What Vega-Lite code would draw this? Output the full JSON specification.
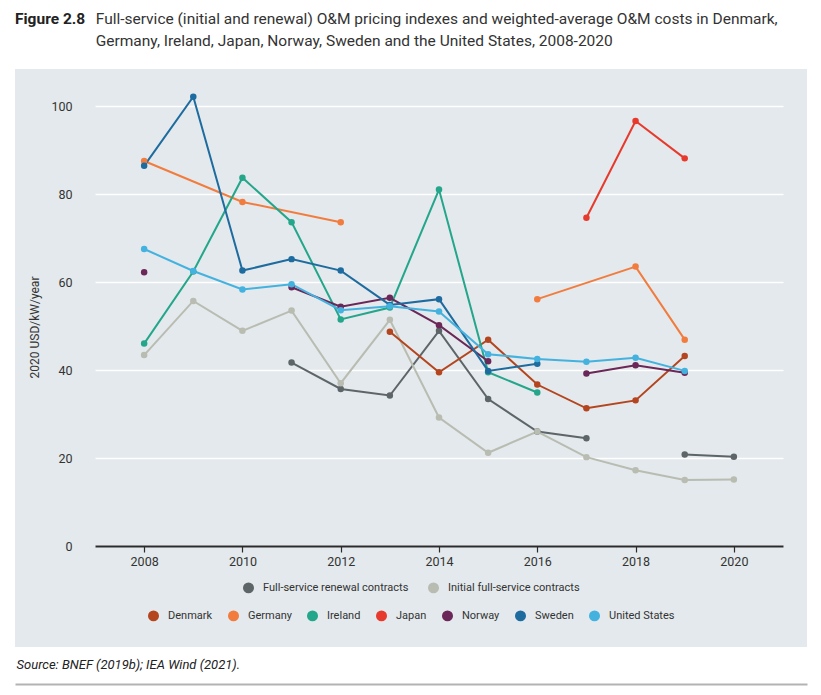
{
  "$schema": "https://vega.github.io/schema/vega-lite/v6.json",
  "width": 792,
  "height": 578,
  "autosize": {"type": "none"},
  "padding": {"left": 15, "top": 69, "right": 14, "bottom": 48},
  "background": "white",
  "config": {
    "font": "Roboto, sans-serif",
    "view": {"stroke": null, "fill": "#e3e9ec"}
  },
  "title": {
    "text": "Figure 2.8",
    "subtitle": [
      "\u200b\u00a0\u00a0\u00a0\u00a0\u00a0\u00a0\u00a0\u00a0\u00a0\u00a0\u00a0\u00a0\u00a0\u00a0\u00a0\u00a0\u00a0\u00a0\u00a0\u00a0\u00a0Full-service (initial and renewal) O&M pricing indexes and weighted-average O&M costs in Denmark,",
      "\u200b\u00a0\u00a0\u00a0\u00a0\u00a0\u00a0\u00a0\u00a0\u00a0\u00a0\u00a0\u00a0\u00a0\u00a0\u00a0\u00a0\u00a0\u00a0\u00a0\u00a0\u00a0Germany, Ireland, Japan, Norway, Sweden and the United States, 2008-2020"
    ],
    "anchor": "start",
    "frame": "group",
    "fontSize": 15.5,
    "fontWeight": "bold",
    "color": "#222222",
    "subtitleFontSize": 15.5,
    "subtitleColor": "#333333",
    "subtitlePadding": -15.5,
    "subtitleLineHeight": 22,
    "offset": 20
  },
  "layer": [
    {
      "data": {"values": [
        {"series": "Full-service renewal contracts", "seg": "R1", "year": 2011, "value": 41.7},
        {"series": "Full-service renewal contracts", "seg": "R1", "year": 2012, "value": 35.7},
        {"series": "Full-service renewal contracts", "seg": "R1", "year": 2013, "value": 34.2},
        {"series": "Full-service renewal contracts", "seg": "R1", "year": 2014, "value": 48.9},
        {"series": "Full-service renewal contracts", "seg": "R1", "year": 2015, "value": 33.4},
        {"series": "Full-service renewal contracts", "seg": "R1", "year": 2016, "value": 26.0},
        {"series": "Full-service renewal contracts", "seg": "R1", "year": 2017, "value": 24.5},
        {"series": "Full-service renewal contracts", "seg": "R2", "year": 2019, "value": 20.8},
        {"series": "Full-service renewal contracts", "seg": "R2", "year": 2020, "value": 20.3},
        {"series": "Initial full-service contracts", "seg": "I1", "year": 2008, "value": 43.4},
        {"series": "Initial full-service contracts", "seg": "I1", "year": 2009, "value": 55.7},
        {"series": "Initial full-service contracts", "seg": "I1", "year": 2010, "value": 48.9},
        {"series": "Initial full-service contracts", "seg": "I1", "year": 2011, "value": 53.5},
        {"series": "Initial full-service contracts", "seg": "I1", "year": 2012, "value": 37.0},
        {"series": "Initial full-service contracts", "seg": "I1", "year": 2013, "value": 51.4},
        {"series": "Initial full-service contracts", "seg": "I1", "year": 2014, "value": 29.2},
        {"series": "Initial full-service contracts", "seg": "I1", "year": 2015, "value": 21.2},
        {"series": "Initial full-service contracts", "seg": "I1", "year": 2016, "value": 26.0},
        {"series": "Initial full-service contracts", "seg": "I1", "year": 2017, "value": 20.2},
        {"series": "Initial full-service contracts", "seg": "I1", "year": 2018, "value": 17.2},
        {"series": "Initial full-service contracts", "seg": "I1", "year": 2019, "value": 15.0},
        {"series": "Initial full-service contracts", "seg": "I1", "year": 2020, "value": 15.1}
      ]},
      "encoding": {
        "x": {
          "field": "year", "type": "quantitative",
          "scale": {"domain": [2007, 2021], "range": [80, 768], "nice": false, "zero": false},
          "axis": {
            "orient": "bottom", "offset": -101, "values": [2008, 2010, 2012, 2014, 2016, 2018, 2020],
            "format": "d", "title": null, "grid": false,
            "domainColor": "#2b2b2b", "domainWidth": 2,
            "tickColor": "#2b2b2b", "tickSize": 6, "tickWidth": 1.2,
            "labelFontSize": 12.5, "labelColor": "#333333", "labelPadding": 3
          }
        },
        "y": {
          "field": "value", "type": "quantitative",
          "scale": {"domain": [-22.95, 108.41], "nice": false, "zero": false},
          "axis": {
            "values": [0, 20, 40, 60, 80, 100], "offset": -62,
            "domain": false, "ticks": false, "labelPadding": 5,
            "labelFontSize": 12.5, "labelColor": "#333333",
            "grid": true, "gridColor": "#ffffff", "gridWidth": 1.5,
            "title": "2020 USD/kW/year", "titleFontSize": 12, "titleFontWeight": "normal",
            "titleColor": "#333333", "titleX": -43, "titleY": 258, "titleAngle": -90,
            "titleAlign": "center", "titleBaseline": "middle"
          }
        },
        "color": {
          "field": "series", "type": "nominal",
          "scale": {
            "domain": ["Full-service renewal contracts", "Initial full-service contracts"],
            "range": ["#5d6569", "#b9bcb1"]
          },
          "legend": {
            "title": null, "orient": "none", "legendX": 228, "legendY": 513,
            "direction": "horizontal", "symbolType": "circle", "symbolSize": 90,
            "labelFontSize": 11, "labelColor": "#333333", "columnPadding": 16, "labelOffset": 9
          }
        }
      },
      "layer": [
        {"mark": {"type": "line", "strokeWidth": 2}, "encoding": {"detail": {"field": "seg"}}},
        {"mark": {"type": "point", "filled": true, "size": 42, "opacity": 1}}
      ]
    },
    {
      "data": {"values": [
        {"series": "Denmark", "seg": "DK1", "year": 2013, "value": 48.7},
        {"series": "Denmark", "seg": "DK1", "year": 2014, "value": 39.5},
        {"series": "Denmark", "seg": "DK1", "year": 2015, "value": 46.9},
        {"series": "Denmark", "seg": "DK1", "year": 2016, "value": 36.7},
        {"series": "Denmark", "seg": "DK1", "year": 2017, "value": 31.3},
        {"series": "Denmark", "seg": "DK1", "year": 2018, "value": 33.1},
        {"series": "Denmark", "seg": "DK1", "year": 2019, "value": 43.2},
        {"series": "Germany", "seg": "DE1", "year": 2008, "value": 87.5},
        {"series": "Germany", "seg": "DE1", "year": 2010, "value": 78.2},
        {"series": "Germany", "seg": "DE1", "year": 2012, "value": 73.6},
        {"series": "Germany", "seg": "DE2", "year": 2016, "value": 56.1},
        {"series": "Germany", "seg": "DE2", "year": 2018, "value": 63.5},
        {"series": "Germany", "seg": "DE2", "year": 2019, "value": 46.9},
        {"series": "Ireland", "seg": "IE1", "year": 2008, "value": 46.0},
        {"series": "Ireland", "seg": "IE1", "year": 2009, "value": 62.4},
        {"series": "Ireland", "seg": "IE1", "year": 2010, "value": 83.7},
        {"series": "Ireland", "seg": "IE1", "year": 2011, "value": 73.6},
        {"series": "Ireland", "seg": "IE1", "year": 2012, "value": 51.5},
        {"series": "Ireland", "seg": "IE1", "year": 2013, "value": 54.2},
        {"series": "Ireland", "seg": "IE1", "year": 2014, "value": 81.0},
        {"series": "Ireland", "seg": "IE1", "year": 2015, "value": 39.5},
        {"series": "Ireland", "seg": "IE1", "year": 2016, "value": 34.9},
        {"series": "Japan", "seg": "JP1", "year": 2017, "value": 74.6},
        {"series": "Japan", "seg": "JP1", "year": 2018, "value": 96.6},
        {"series": "Japan", "seg": "JP1", "year": 2019, "value": 88.1},
        {"series": "Norway", "seg": "NO1", "year": 2008, "value": 62.2},
        {"series": "Norway", "seg": "NO2", "year": 2011, "value": 58.8},
        {"series": "Norway", "seg": "NO2", "year": 2012, "value": 54.4},
        {"series": "Norway", "seg": "NO2", "year": 2013, "value": 56.4},
        {"series": "Norway", "seg": "NO2", "year": 2014, "value": 50.2},
        {"series": "Norway", "seg": "NO2", "year": 2015, "value": 42.0},
        {"series": "Norway", "seg": "NO3", "year": 2017, "value": 39.2},
        {"series": "Norway", "seg": "NO3", "year": 2018, "value": 41.1},
        {"series": "Norway", "seg": "NO3", "year": 2019, "value": 39.4},
        {"series": "Sweden", "seg": "SE1", "year": 2008, "value": 86.4},
        {"series": "Sweden", "seg": "SE1", "year": 2009, "value": 102.1},
        {"series": "Sweden", "seg": "SE1", "year": 2010, "value": 62.6},
        {"series": "Sweden", "seg": "SE1", "year": 2011, "value": 65.2},
        {"series": "Sweden", "seg": "SE1", "year": 2012, "value": 62.6},
        {"series": "Sweden", "seg": "SE1", "year": 2013, "value": 54.8},
        {"series": "Sweden", "seg": "SE1", "year": 2014, "value": 56.1},
        {"series": "Sweden", "seg": "SE1", "year": 2015, "value": 39.8},
        {"series": "Sweden", "seg": "SE1", "year": 2016, "value": 41.4},
        {"series": "United States", "seg": "US1", "year": 2008, "value": 67.5},
        {"series": "United States", "seg": "US1", "year": 2009, "value": 62.5},
        {"series": "United States", "seg": "US1", "year": 2010, "value": 58.3},
        {"series": "United States", "seg": "US1", "year": 2011, "value": 59.5},
        {"series": "United States", "seg": "US1", "year": 2012, "value": 53.6},
        {"series": "United States", "seg": "US1", "year": 2013, "value": 54.5},
        {"series": "United States", "seg": "US1", "year": 2014, "value": 53.3},
        {"series": "United States", "seg": "US1", "year": 2015, "value": 43.6},
        {"series": "United States", "seg": "US1", "year": 2016, "value": 42.5},
        {"series": "United States", "seg": "US1", "year": 2017, "value": 41.9},
        {"series": "United States", "seg": "US1", "year": 2018, "value": 42.8},
        {"series": "United States", "seg": "US1", "year": 2019, "value": 39.8}
      ]},
      "encoding": {
        "x": {
          "field": "year", "type": "quantitative",
          "scale": {"domain": [2005.372093, 2021.488372], "nice": false, "zero": false},
          "axis": {
            "orient": "bottom", "offset": 37, "grid": false, "ticks": false, "labels": false,
            "domainColor": "#b3b3b3", "domainWidth": 2,
            "title": "Source: BNEF (2019b); IEA Wind (2021).",
            "titleFontStyle": "italic", "titleFontWeight": "normal", "titleFontSize": 13,
            "titleColor": "#222222", "titleAnchor": "start", "titleAlign": "left",
            "titleX": 1, "titleY": -20, "titleBaseline": "middle"
          }
        },
        "y": {
          "field": "value", "type": "quantitative",
          "scale": {"domain": [-22.95, 108.41], "nice": false, "zero": false},
          "axis": null
        },
        "color": {
          "field": "series", "type": "nominal",
          "scale": {
            "domain": ["Denmark", "Germany", "Ireland", "Japan", "Norway", "Sweden", "United States"],
            "range": ["#b4451f", "#f27c3e", "#23a68a", "#e83a2c", "#6b2758", "#1e6c9f", "#43b2df"]
          },
          "legend": {
            "title": null, "orient": "none", "legendX": 133, "legendY": 541,
            "direction": "horizontal", "symbolType": "circle", "symbolSize": 90,
            "labelFontSize": 11, "labelColor": "#333333", "columnPadding": 12, "labelOffset": 9
          }
        }
      },
      "layer": [
        {"mark": {"type": "line", "strokeWidth": 2}, "encoding": {"detail": {"field": "seg"}}},
        {"mark": {"type": "point", "filled": true, "size": 42, "opacity": 1}}
      ]
    }
  ],
  "resolve": {
    "scale": {"x": "independent", "color": "independent"},
    "axis": {"x": "independent", "y": "independent"}
  }
}
